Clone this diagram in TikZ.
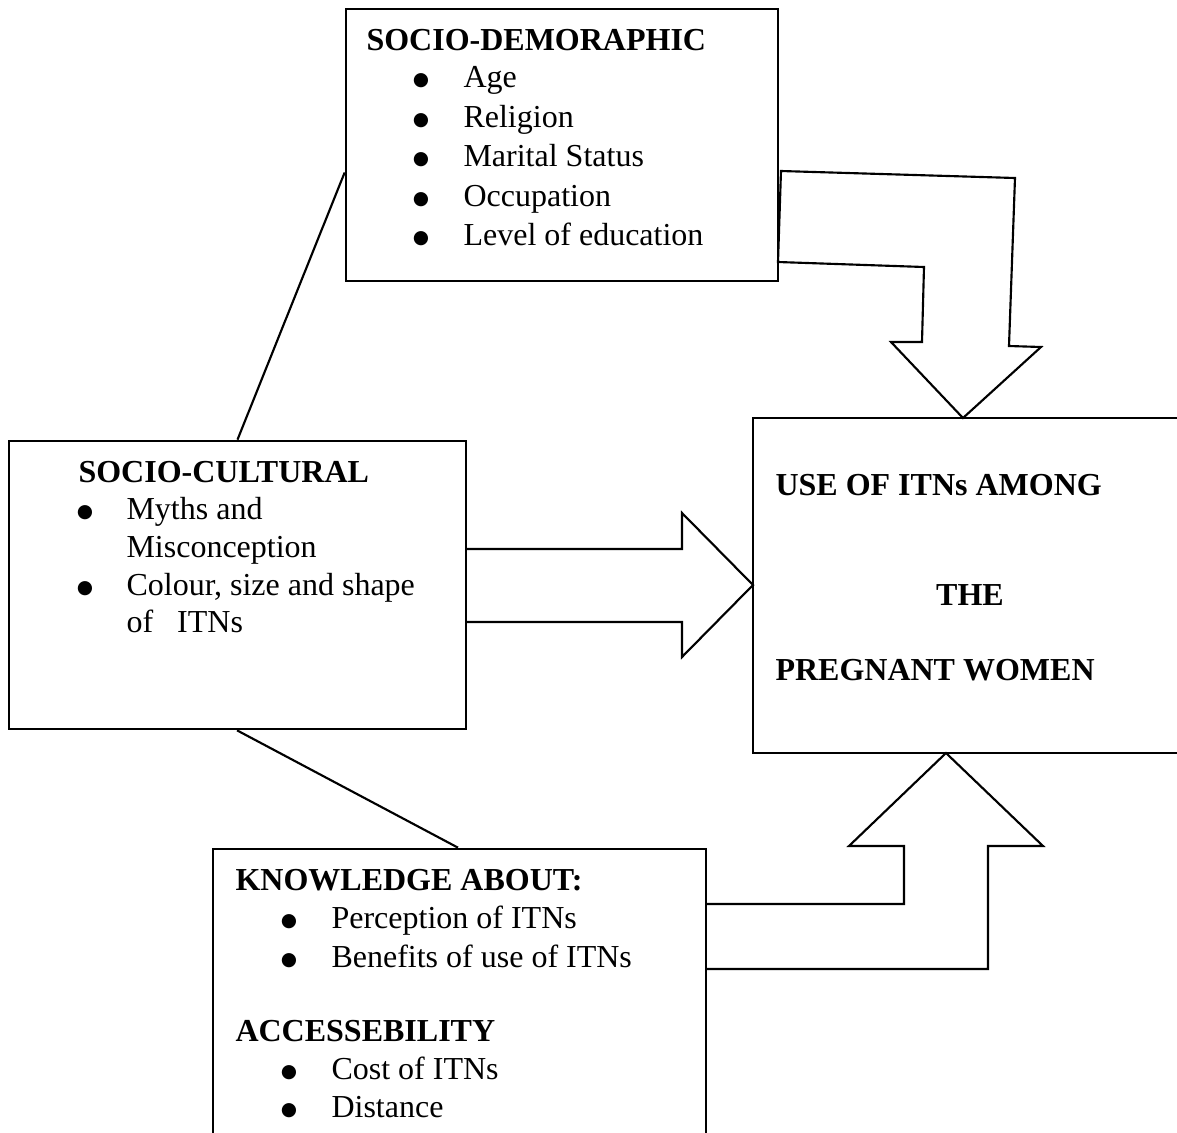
\documentclass[tikz,border=0pt]{standalone}
\usepackage{fontspec}
\setmainfont{Liberation Serif}
\newfontfamily\dotfont{DejaVu Sans}
\usetikzlibrary{fit,calc}
\begin{document}
\begin{tikzpicture}[x=0.375pt,y=-0.375pt,
  boxline/.style={draw=black, line width=1pt, inner sep=0pt, rectangle},
  blockarrow/.style={draw=black, line width=0.8pt, line join=miter},
  link/.style={draw=black, line width=0.8pt},
  txt/.style={anchor=base west, inner sep=0pt, font=\fontsize{12}{14}\selectfont},
  ttl/.style={anchor=base west, inner sep=0pt, font=\fontsize{12}{14}\selectfont\bfseries},
  bul/.style={anchor=base, inner sep=0pt, yshift=0.6pt, font=\dotfont\fontsize{7}{8}\selectfont}]
\useasboundingbox (0,0) rectangle (1177,1133);

% boxes
\node[boxline, fit={(346,9) (778,281)}] (demo) {};
\node[boxline, fit={(9,441) (466,729)}] (cult) {};
\node[boxline, fit={(753,418) (1195,753)}] (use) {};
\node[boxline, fit={(213,849) (706,1150)}] (know) {};

% connecting lines
\draw[link] ($(demo.north west)!0.6!(demo.south west)$) -- ($(cult.north west)!0.5!(cult.north east)$);
\draw[link] ($(cult.south west)!0.499!(cult.south east)$) -- ($(know.north west)!0.497!(know.north east)$);

% block arrows
\draw[blockarrow] (781,171) -- (1015,178) -- (1009,346) -- (1041,347) -- (963,418)
  -- (891,342) -- (922,342) -- (924,267) -- (778,262) -- cycle;
\draw[blockarrow] (466,549) -- (682,549) -- (682,513) -- (753,585) -- (682,657)
  -- (682,622) -- (466,622);
\draw[blockarrow] (706,904) -- (904,904) -- (904,846) -- (849,846) -- (946,753)
  -- (1043,846) -- (988,846) -- (988,969) -- (706,969);

% SOCIO-DEMOGRAPHIC
\node[ttl] (dt) at (366,50) {SOCIO-DEMORAPHIC};
\node[bul] (db1) at (421,87) {●};
\node[bul] (db2) at (421,127) {●};
\node[bul] (db3) at (421,166) {●};
\node[bul] (db4) at (421,206) {●};
\node[bul] (db5) at (421,245) {●};
\node[txt] (d1) at (463,87) {Age};
\node[txt] (d2) at (463,127) {Religion};
\node[txt] (d3) at (463,166) {Marital Status};
\node[txt] (d4) at (463,206) {Occupation};
\node[txt] (d5) at (463,245) {Level of education};

% SOCIO-CULTURAL
\node[ttl] (ct) at (78,482) {SOCIO-CULTURAL};
\node[bul] (cb1) at (85,519) {●};
\node[bul] (cb2) at (85,595) {●};
\node[txt] (c1) at (126,519) {Myths and};
\node[txt] (c2) at (126,557) {Misconception};
\node[txt] (c3) at (126,595) {Colour, size and shape};
\node[txt] (c4) at (126,632) {of~~~ITNs};

% USE OF ITNs
\node[ttl] (u1) at (775,495) {USE OF ITNs AMONG};
\node[anchor=base, inner sep=0pt, font=\fontsize{12}{14}\selectfont\bfseries] (u2) at (970,605) {THE};
\node[ttl] (u3) at (775,680) {PREGNANT WOMEN};

% KNOWLEDGE
\node[ttl] (kt) at (235,890) {KNOWLEDGE ABOUT:};
\node[bul] (kb1) at (289,928) {●};
\node[bul] (kb2) at (289,967) {●};
\node[txt] (k1) at (331,928) {Perception of ITNs};
\node[txt] (k2) at (331,967) {Benefits of use of ITNs};
\node[ttl] (at) at (235,1041) {ACCESSEBILITY};
\node[bul] (kb3) at (289,1079) {●};
\node[bul] (kb4) at (289,1117) {●};
\node[txt] (k3) at (331,1079) {Cost of ITNs};
\node[txt] (k4) at (331,1117) {Distance};
\end{tikzpicture}
\end{document}
